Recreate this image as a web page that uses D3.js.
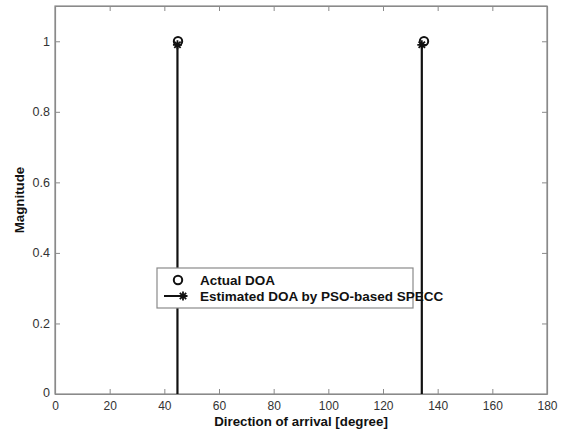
<!DOCTYPE html>
<html>
<head>
<meta charset="utf-8">
<script src="https://cdn.jsdelivr.net/npm/d3@7/dist/d3.min.js"></script>
<style>
  html, body { margin: 0; padding: 0; background: #fff; }
  svg { display: block; font-family: "Liberation Sans", Arial, sans-serif; }
</style>
</head>
<body>
<svg id="chart" width="573" height="432"></svg>
<script>
// Data
const actualDOA = [45, 135];
const actualMag = [1, 1];
const estimatedDOA = [44.8, 134.2];
const estimatedMag = [0.99, 0.99];
const xTicks = [0, 20, 40, 60, 80, 100, 120, 140, 160, 180];
const yTicks = [0, 0.2, 0.4, 0.6, 0.8, 1];
const legendLabels = ["Actual DOA", "Estimated DOA by PSO-based SPECC"];
const xLabel = "Direction of arrival [degree]";
const yLabel = "Magnitude";

const svg = d3.select("#chart");
const m = { left: 55, right: 26, top: 6, bottom: 38 };
const W = 573, H = 432;
const x = d3.scaleLinear().domain([0, 180]).range([m.left, W - m.right]);
const y = d3.scaleLinear().domain([0, 1.1]).range([H - m.bottom, m.top]);

const axisColor = "#8a8a8a";
const textColor = "#333";

// Frame
svg.append("rect")
  .attr("x", x(0)).attr("y", y(1.1))
  .attr("width", x(180) - x(0)).attr("height", y(0) - y(1.1))
  .attr("fill", "#fff").attr("stroke", axisColor).attr("stroke-width", 1.2);

// Axes with inward ticks
const gx = svg.append("g").attr("transform", `translate(0,${y(0)})`)
  .call(d3.axisBottom(x).tickValues(xTicks).tickFormat(d3.format("d")).tickSizeInner(-5).tickSizeOuter(0).tickPadding(7));
const gxTop = svg.append("g").attr("transform", `translate(0,${y(1.1)})`)
  .call(d3.axisTop(x).tickValues(xTicks).tickFormat("").tickSizeInner(-5).tickSizeOuter(0));
const gy = svg.append("g").attr("transform", `translate(${x(0)},0)`)
  .call(d3.axisLeft(y).tickValues(yTicks).tickFormat(d => d === 0 ? "0" : (d === 1 ? "1" : d3.format(".1f")(d))).tickSizeInner(-5).tickSizeOuter(0).tickPadding(5));
const gyR = svg.append("g").attr("transform", `translate(${x(180)},0)`)
  .call(d3.axisRight(y).tickValues(yTicks).tickFormat("").tickSizeInner(-5).tickSizeOuter(0));

[gx, gxTop, gy, gyR].forEach(g => {
  g.select(".domain").attr("stroke", axisColor).attr("stroke-width", 1.2);
  g.selectAll(".tick line").attr("stroke", axisColor).attr("stroke-width", 1);
  g.selectAll("text").attr("fill", textColor).attr("font-size", 12.5)
    .attr("font-family", "'Liberation Sans', Arial, sans-serif");
});
gx.selectAll("text").attr("font-size", 12).attr("dy", "0.71em");
gy.selectAll(".tick").filter(d => d === 0).select("text").attr("dy", "0.2em");

// Axis labels
svg.append("text")
  .attr("x", (x(0) + x(180)) / 2).attr("y", 425.5)
  .attr("text-anchor", "middle").attr("font-size", 13.3).attr("font-weight", "bold")
  .attr("fill", "#111").text(xLabel);
svg.append("text")
  .attr("transform", `translate(24,${(y(0) + y(1.1)) / 2}) rotate(-90)`)
  .attr("text-anchor", "middle").attr("font-size", 13.3).attr("font-weight", "bold")
  .attr("fill", "#111").text(yLabel);

// Star marker path
function starPath(r) {
  let p = "";
  for (let i = 0; i < 4; i++) {
    const a = i * Math.PI / 4;
    const dx = r * Math.cos(a), dy = r * Math.sin(a);
    p += `M${-dx},${-dy}L${dx},${dy}`;
  }
  return p;
}

const estData = estimatedDOA.map((d, i) => ({ x: d, y: estimatedMag[i] }));
const actData = actualDOA.map((d, i) => ({ x: d, y: actualMag[i] }));

// Stems
svg.append("g").selectAll("line").data(estData).join("line")
  .attr("x1", d => x(d.x)).attr("x2", d => x(d.x))
  .attr("y1", y(0)).attr("y2", d => y(d.y))
  .attr("stroke", "#111").attr("stroke-width", 2.2);

// Actual markers (circles)
svg.append("g").selectAll("circle").data(actData).join("circle")
  .attr("cx", d => x(d.x)).attr("cy", d => y(d.y)).attr("r", 4.2)
  .attr("fill", "none").attr("stroke", "#111").attr("stroke-width", 2);

// Estimated markers (stars)
svg.append("g").selectAll("path").data(estData).join("path")
  .attr("transform", d => `translate(${x(d.x)},${y(d.y)})`)
  .attr("d", starPath(4.5)).attr("stroke", "#111").attr("stroke-width", 1.8).attr("fill", "none");

// Legend
const lg = svg.append("g");
const lx = 157, ly = 268, lw = 256, lh = 40;
lg.append("rect").attr("x", lx).attr("y", ly).attr("width", lw).attr("height", lh)
  .attr("fill", "#fff").attr("stroke", axisColor).attr("stroke-width", 1.2);
lg.append("circle").attr("cx", 178).attr("cy", 280).attr("r", 4.2)
  .attr("fill", "none").attr("stroke", "#111").attr("stroke-width", 2);
lg.append("line").attr("x1", 164).attr("x2", 183).attr("y1", 296).attr("y2", 296)
  .attr("stroke", "#111").attr("stroke-width", 2);
lg.append("path").attr("transform", "translate(183,296)").attr("d", starPath(4.5))
  .attr("stroke", "#111").attr("stroke-width", 1.8).attr("fill", "none");
legendLabels.forEach((t, i) => {
  lg.append("text").attr("x", 200).attr("y", 285 + i * 15.5)
    .attr("font-size", 13.5).attr("font-weight", "bold").attr("fill", "#111").text(t);
});
</script>
</body>
</html>
